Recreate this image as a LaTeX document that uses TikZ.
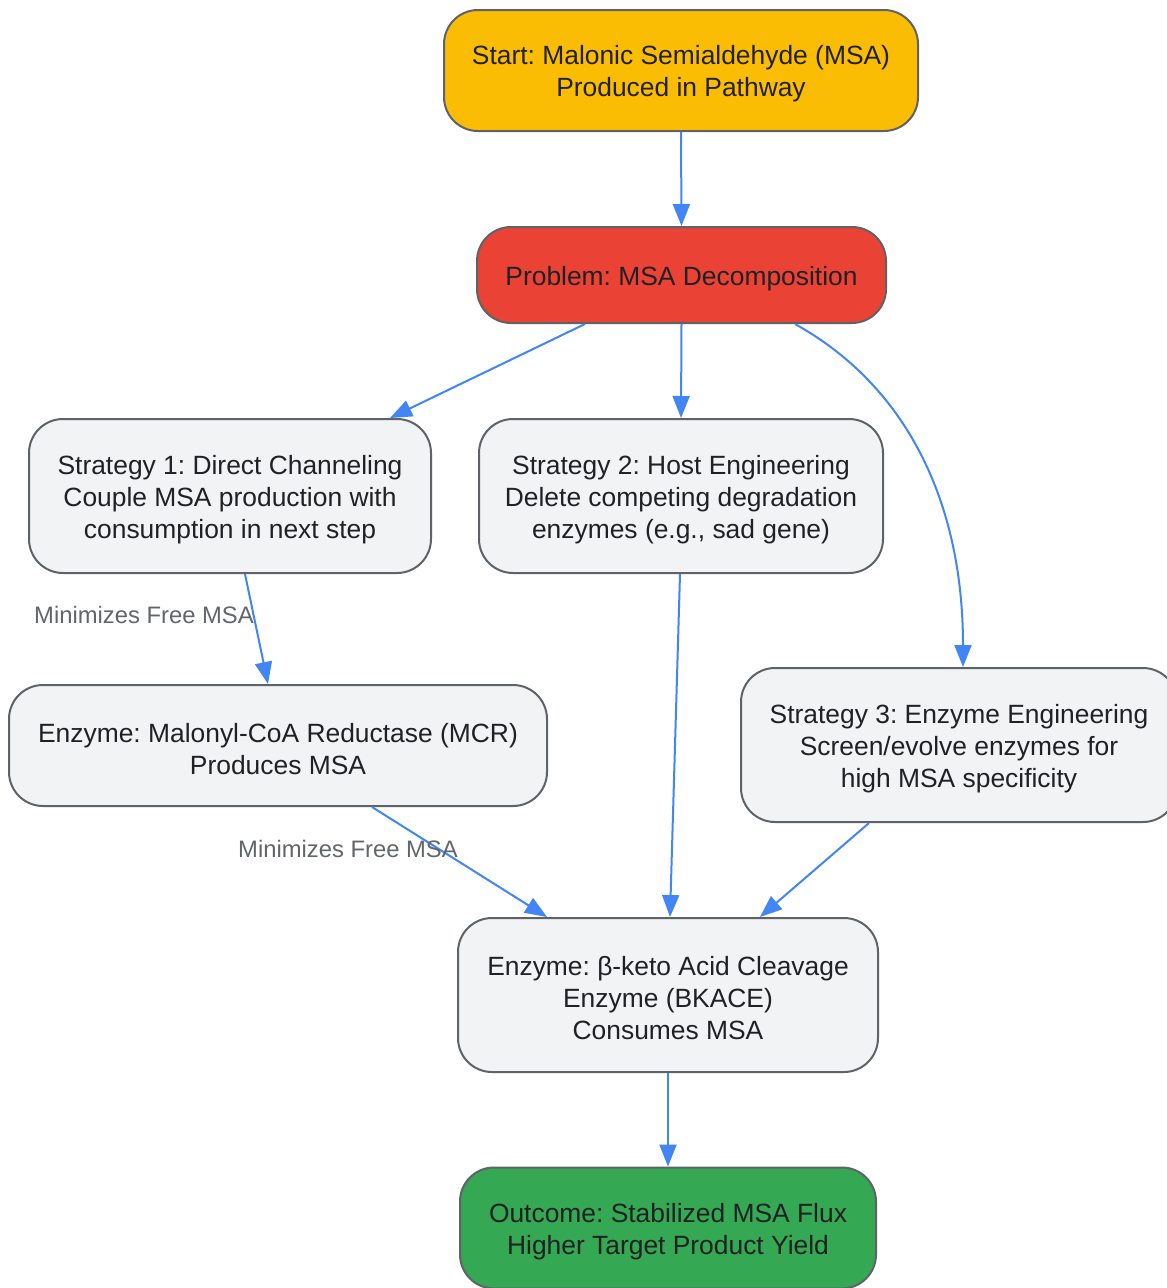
\documentclass[tikz,border=0pt]{standalone}
\usepackage{fontspec}
\setmainfont{Liberation Sans}
\usetikzlibrary{arrows.meta}
\frenchspacing
\definecolor{edgeblue}{HTML}{4285F4}
\definecolor{strokegray}{HTML}{5F6368}
\definecolor{boxgray}{HTML}{F1F3F4}
\definecolor{startyellow}{HTML}{FBBC04}
\definecolor{probred}{HTML}{EA4335}
\definecolor{outgreen}{HTML}{34A853}
\definecolor{txtdark}{HTML}{202124}
\definecolor{lblgray}{HTML}{62666C}
\newcommand{\topstrut}{\rule{0pt}{26pt}}
\newcommand{\botstrut}{\rule[-1pt]{0pt}{1pt}}
\tikzset{
  box/.style={draw=strokegray, line width=2pt, rounded corners=34pt, align=center,
    inner sep=0pt, text=txtdark, font=\fontsize{26.4}{32}\selectfont\frenchspacing},
  grey/.style={box, fill=boxgray},
  conn/.style={draw=edgeblue, line width=2pt, -{Triangle[length=22pt,width=17pt]}},
  lbl/.style={text=lblgray, font=\fontsize{23.8}{28}\selectfont, inner sep=0pt}
}
\begin{document}
\begin{tikzpicture}[x=1pt,y=-1pt]
\useasboundingbox (0,0) rectangle (1167,1288);
\clip (0,0) rectangle (1167,1288);
\fill[white] (0,0) rectangle (1167,1288);

\node[box, fill=startyellow, minimum width=474pt, minimum height=121pt] (start) at (681,70.5)
  {\topstrut Start: Malonic Semialdehyde (MSA)\\Produced in Pathway};
\node[box, fill=probred, minimum width=409pt, minimum height=96pt] (prob) at (681.5,275)
  {\topstrut Problem: MSA Decomposition};
\node[grey, minimum width=402pt, minimum height=154pt] (s1) at (230,496)
  {\topstrut Strategy 1: Direct Channeling\\Couple MSA production with\\consumption in next step};
\node[grey, minimum width=404pt, minimum height=154pt] (s2) at (681,496)
  {\topstrut Strategy 2: Host Engineering\\Delete competing degradation\\enzymes (e.g., sad gene)};
\node[grey, minimum width=436pt, minimum height=154pt] (s3) at (959,745)
  {\topstrut Strategy 3: Enzyme Engineering\\Screen/evolve enzymes for\\high MSA specificity};
\node[grey, minimum width=538pt, minimum height=121pt] (mcr) at (278,745.5)
  {\topstrut Enzyme: Malonyl-CoA Reductase (MCR)\\Produces MSA};
\node[grey, minimum width=420pt, minimum height=154pt] (bk) at (668,995)
  {\topstrut Enzyme: β-keto Acid Cleavage\\Enzyme (BKACE)\\Consumes MSA};
\node[box, fill=outgreen, minimum width=416pt, minimum height=121pt] (out) at (668,1228)
  {\topstrut Outcome: Stabilized MSA Flux\\Higher Target Product Yield};

\draw[conn] (start.south) -- (prob.north);
\draw[conn] ([xshift=-96.5pt]prob.south) -- ([xshift=160pt]s1.north);
\draw[conn] (prob.south) -- (s2.north);
\draw[conn] ([xshift=113.5pt]prob.south) .. controls (905,385) and (963,500) .. ([xshift=4pt]s3.north);
\draw[conn] ([xshift=15pt]s1.south) -- ([xshift=-10pt]mcr.north);
\draw[conn] ([xshift=94pt]mcr.south) -- ([xshift=-121pt]bk.north);
\draw[conn] ([xshift=-1pt]s2.south) -- ([xshift=2pt]bk.north);
\draw[conn] ([xshift=-90pt]s3.south) -- ([xshift=92pt]bk.north);
\draw[conn] (bk.south) -- (out.north);

\node[lbl] (l1) at (144,615) {Minimizes Free MSA};
\node[lbl] (l2) at (348,849) {Minimizes Free MSA};
\end{tikzpicture}
\end{document}
